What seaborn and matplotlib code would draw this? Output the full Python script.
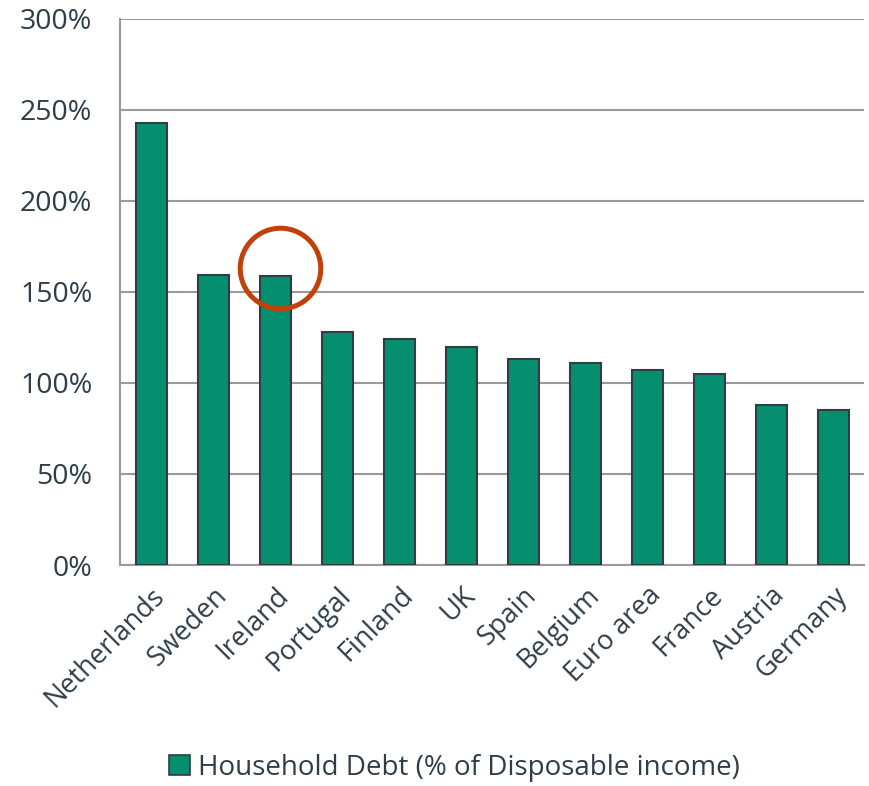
import matplotlib
matplotlib.use("Agg")
import matplotlib.pyplot as plt
import seaborn as sns
import pandas as pd
from matplotlib.patches import Patch
from matplotlib.ticker import FuncFormatter, MultipleLocator

countries = ["Netherlands", "Sweden", "Ireland", "Portugal", "Finland", "UK",
             "Spain", "Belgium", "Euro area", "France", "Austria", "Germany"]
debt = [243, 159.5, 159, 128, 124, 120, 113, 111, 107, 105, 88, 85]
series_name = "Household Debt (% of Disposable income)"
highlight = "Ireland"

df = pd.DataFrame({"country": countries, "debt": debt})

sns.set_style("white")
plt.rcParams["font.family"] = ["Open Sans", "DejaVu Sans"]
text_color = "#2E3D48"
grid_color = "#9A9A9A"
bar_color = "#058F6E"
edge_color = "#2F3E46"
fs = 19.5

fig = plt.figure(figsize=(8.69, 7.86), dpi=100)
ax = fig.add_axes([120/869, 1-565/786, 744/869, 546/786])

sns.barplot(data=df, x="country", y="debt", color=bar_color, width=0.5,
            edgecolor=edge_color, linewidth=1.5, ax=ax, saturation=1, zorder=3)

ax.set_ylim(0, 300)
ax.set_xlim(-0.5, len(countries) - 0.5)
ax.yaxis.set_major_locator(MultipleLocator(50))
ax.yaxis.set_major_formatter(FuncFormatter(lambda v, p: f"{int(v)}%"))
ax.grid(axis="y", color=grid_color, linewidth=1.5, zorder=0)
ax.set_axisbelow(True)
for s in ["top", "right"]:
    ax.spines[s].set_visible(False)
for s in ["left", "bottom"]:
    ax.spines[s].set_color(grid_color)
    ax.spines[s].set_linewidth(1.5)

ax.set_xlabel("")
ax.set_ylabel("")
ax.tick_params(axis="y", which="major", length=10, width=1.5, color=grid_color,
               labelsize=20.5, labelcolor=text_color, direction="out", pad=10)
ax.set_xticks([i for i in range(len(countries))])
ax.set_xticklabels(countries, rotation=45, ha="right", rotation_mode="anchor",
                   fontsize=fs, color=text_color)
ax.tick_params(axis="x", which="major", length=0, pad=12)
ax.set_xticks([i - 0.5 for i in range(len(countries) + 1)], minor=True)
ax.tick_params(axis="x", which="minor", length=9, width=1.5, color=grid_color, direction="out")

# highlight circle
hi = countries.index(highlight)
ax.plot([hi + 0.08], [163], marker="o", markersize=58, markerfacecolor="none",
        markeredgecolor="#C0410B", markeredgewidth=3.6, zorder=5, clip_on=False)

handles = [Patch(facecolor=bar_color, edgecolor=edge_color, linewidth=1.2, label=series_name)]
leg = fig.legend(handles=handles, loc="center", bbox_to_anchor=(0.523, 1-768/786),
                 frameon=False, fontsize=20, handlelength=0.75, handleheight=0.75,
                 handletextpad=0.3)
for t in leg.get_texts():
    t.set_color(text_color)

fig.savefig("out.png", dpi=100)
